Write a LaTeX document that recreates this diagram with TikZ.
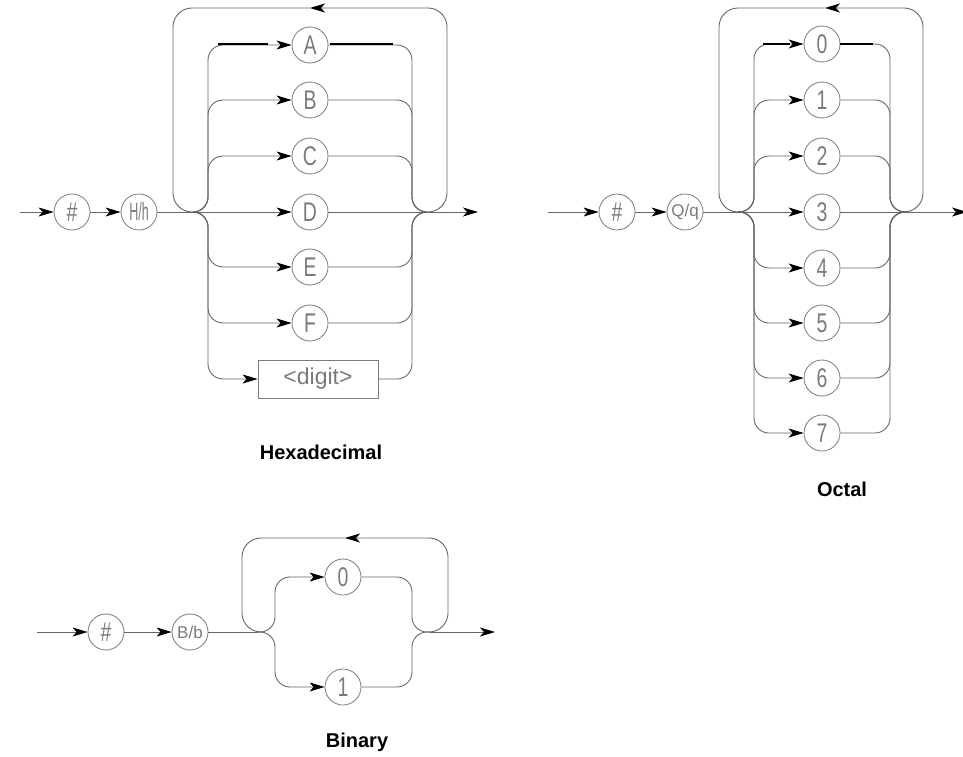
\documentclass[tikz,border=0pt]{standalone}
\usepackage{fontspec}
\setmainfont{Liberation Sans}
\newfontfamily\cadfont[FakeStretch=0.72]{Liberation Sans}
\newfontfamily\cadslim[FakeStretch=0.5]{Liberation Sans}
\usetikzlibrary{arrows.meta}

\definecolor{wire}{gray}{0.40}
\definecolor{glyph}{gray}{0.48}

\tikzset{
  rr/.style={draw=wire, line width=0.9pt, rounded corners=15pt},
  loopline/.style={rr, rounded corners=19pt},
  tip/.style={-{Stealth[length=15pt,width=9pt,inset=4pt,color=black]}},
  flow/.style={rr, tip},
  loopflow/.style={loopline, tip},
  term/.style={circle, draw=glyph, line width=0.8pt, minimum size=36pt,
    inner sep=0pt, text=glyph, font=\cadfont\fontsize{27}{27}\selectfont},
  smallterm/.style={term, font=\fontsize{17}{17}\selectfont},
  slimterm/.style={term, font=\cadslim\fontsize{25}{25}\selectfont},
  nonterm/.style={rectangle, draw=glyph, line width=0.8pt, minimum width=120pt,
    minimum height=38pt, inner sep=0pt, text=glyph, font=\fontsize{23}{23}\selectfont},
  heavy/.style={draw=black, line width=2pt},
  caption/.style={font=\bfseries\fontsize{20}{20}\selectfont, text=black}
}

\begin{document}
\begin{tikzpicture}[x=1pt, y=-1pt]
\useasboundingbox (0,0) rectangle (963,757);

% ---------------- Hexadecimal ----------------
\coordinate (hin) at (20,212);
\node[term] (hhash) at (72,212) {\#};
\node[slimterm] (hH) at (139,212) {H/h};
\coordinate (hsplit) at (193,212);
\coordinate (hjoin) at (427,212);
\coordinate (hout) at (478,212);
\coordinate (htop) at (310,8);

\draw[flow] (hin) -- (hhash);
\draw[flow] (hhash) -- (hH);
\draw[rr] (hH) -- (hsplit);

% repeat loop
\draw[loopflow] (hjoin) -- (447,212) -- (447,8) -- (htop);
\draw[loopline] (htop) -- (173,8) -- (173,212) -- (hsplit);

% alternatives
\node[term] (hD) at (310,212) {D};
\draw[flow] (hsplit) -- (hD);
\draw[rr] (hD) -- (hjoin);
\foreach \t/\y in {A/45,B/100,C/156,E/267,F/323} {
  \node[term] (h\t) at (310,\y) {\t};
  \draw[flow] (hsplit) -- (208,212) -- (208,\y) -- (h\t);
  \draw[rr] (h\t) -- (412,\y) -- (412,212) -- (hjoin);
}
\node[nonterm] (hdig) at (318,379) {<digit>};
\draw[flow] (hsplit) -- (208,212) -- (208,379) -- (hdig);
\draw[rr] (hdig) -- (412,379) -- (412,212) -- (hjoin);

\draw[flow] (hjoin) -- (hout);

% emphasised strokes on the first alternative
\draw[heavy] (218,44) -- (268,44);
\draw[heavy] (330,44) -- (393,44);

\node[caption] (hcap) at (321,452) {Hexadecimal};

% ---------------- Octal ----------------
\coordinate (oin) at (548,212);
\node[term] (ohash) at (617,212) {\#};
\node[smallterm] (oQ) at (685,212) {Q/q};
\coordinate (osplit) at (738,212);
\coordinate (ojoin) at (906,212);
\coordinate (oout) at (967,212);
\coordinate (otop) at (825,8);

\draw[flow] (oin) -- (ohash);
\draw[flow] (ohash) -- (oQ);
\draw[rr] (oQ) -- (osplit);

\draw[loopflow] (ojoin) -- (923,212) -- (923,8) -- (otop);
\draw[loopline] (otop) -- (719,8) -- (719,212) -- (osplit);

\node[term] (o3) at (822,212) {3};
\draw[flow] (osplit) -- (o3);
\draw[rr] (o3) -- (ojoin);
\foreach \t/\y in {0/44,1/100,2/156,4/268,5/323,6/378,7/433} {
  \node[term] (o\t) at (822,\y) {\t};
  \draw[flow] (osplit) -- (754,212) -- (754,\y) -- (o\t);
  \draw[rr] (o\t) -- (890,\y) -- (890,212) -- (ojoin);
}
\draw[flow] (ojoin) -- (oout);

\draw[heavy] (763,44) -- (790,44);
\draw[heavy] (840,44) -- (873,44);

\node[caption] (ocap) at (842,489) {Octal};

% ---------------- Binary ----------------
\coordinate (bin) at (37,632);
\node[term] (bhash) at (106,632) {\#};
\node[smallterm] (bB) at (190,632) {B/b};
\coordinate (bsplit) at (258,632);
\coordinate (bjoin) at (430,632);
\coordinate (bout) at (495,632);
\coordinate (btop) at (345,538);

\draw[flow] (bin) -- (bhash);
\draw[flow] (bhash) -- (bB);
\draw[rr] (bB) -- (bsplit);

\draw[loopflow] (bjoin) -- (448,632) -- (448,538) -- (btop);
\draw[loopline] (btop) -- (242,538) -- (242,632) -- (bsplit);

\foreach \t/\y in {0/577,1/687} {
  \node[term] (b\t) at (343,\y) {\t};
  \draw[flow] (bsplit) -- (275,632) -- (275,\y) -- (b\t);
  \draw[rr] (b\t) -- (412,\y) -- (412,632) -- (bjoin);
}
\draw[flow] (bjoin) -- (bout);

\node[caption] (bcap) at (357,742) {Binary};
\end{tikzpicture}
\end{document}
